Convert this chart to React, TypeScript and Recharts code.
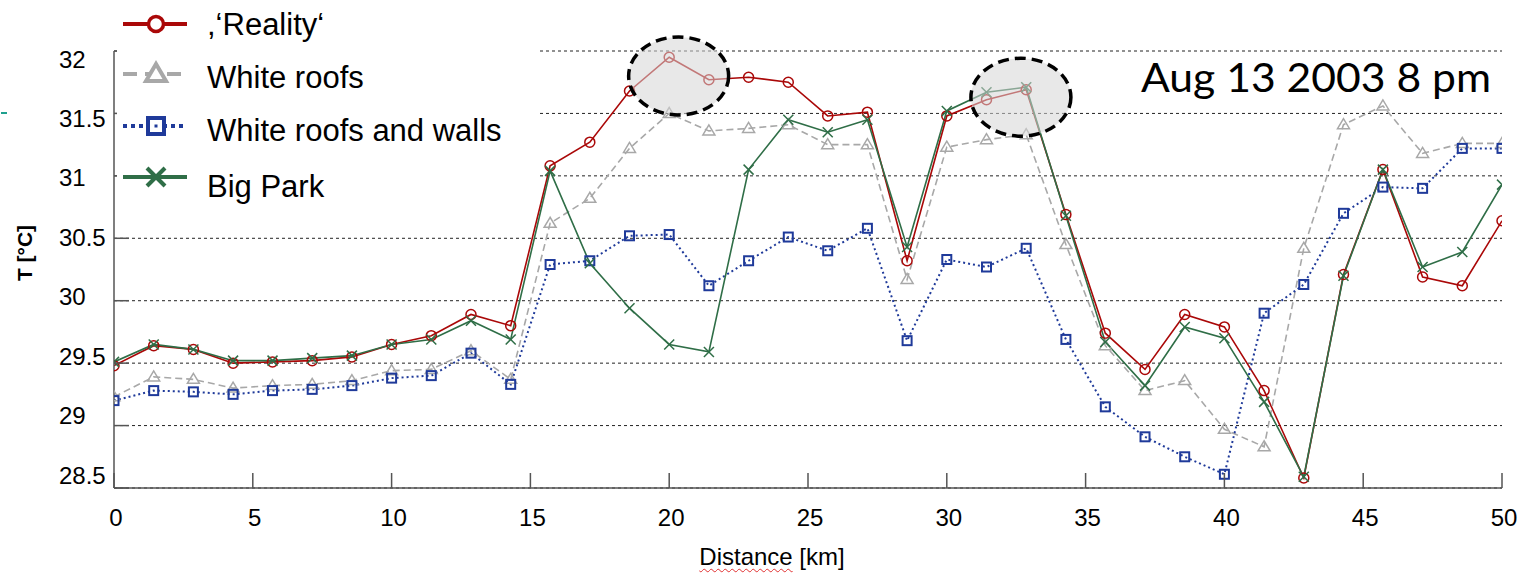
import React from 'react';
import { LineChart, Line, XAxis, YAxis, CartesianGrid, ReferenceDot, Legend } from 'recharts';

// ---- data ----
const distanceKm = [0, 1.43, 2.86, 4.29, 5.71, 7.14, 8.57, 10, 11.43, 12.86, 14.29, 15.71, 17.14, 18.57, 20, 21.43, 22.86, 24.29, 25.71, 27.14, 28.57, 30, 31.43, 32.86, 34.29, 35.71, 37.14, 38.57, 40, 41.43, 42.86, 44.29, 45.71, 47.14, 48.57, 50];
const reality = [29.48, 29.64, 29.61, 29.5, 29.51, 29.52, 29.55, 29.65, 29.72, 29.89, 29.8, 31.08, 31.27, 31.68, 31.95, 31.77, 31.79, 31.75, 31.48, 31.51, 30.32, 31.48, 31.61, 31.69, 30.69, 29.74, 29.45, 29.89, 29.79, 29.28, 28.58, 30.21, 31.05, 30.19, 30.12, 30.64];
const whiteRoofs = [29.23, 29.39, 29.37, 29.3, 29.32, 29.33, 29.36, 29.44, 29.45, 29.6, 29.37, 30.62, 30.82, 31.22, 31.5, 31.36, 31.38, 31.41, 31.25, 31.25, 30.17, 31.23, 31.29, 31.33, 30.45, 29.64, 29.28, 29.36, 28.97, 28.83, 30.42, 31.41, 31.56, 31.18, 31.26, 31.26];
const whiteRoofsWalls = [29.2, 29.28, 29.27, 29.25, 29.28, 29.29, 29.32, 29.38, 29.4, 29.58, 29.33, 30.29, 30.32, 30.52, 30.53, 30.12, 30.32, 30.51, 30.4, 30.58, 29.68, 30.33, 30.27, 30.42, 29.69, 29.15, 28.91, 28.75, 28.61, 29.9, 30.13, 30.7, 30.91, 30.9, 31.22, 31.22];
const bigPark = [29.51, 29.65, 29.61, 29.52, 29.52, 29.54, 29.56, 29.65, 29.69, 29.84, 29.69, 31.04, 30.3, 29.94, 29.65, 29.59, 31.05, 31.45, 31.35, 31.45, 30.43, 31.52, 31.67, 31.71, 30.68, 29.67, 29.32, 29.79, 29.7, 29.19, 28.59, 30.2, 31.05, 30.27, 30.39, 30.93];

const xTicks = [0, 5, 10, 15, 20, 25, 30, 35, 40, 45, 50];
const xTickLabels = ['0', '5', '10', '15', '20', '25', '30', '35', '40', '45', '50'];
const yTicks = [28.5, 29, 29.5, 30, 30.5, 31, 31.5, 32];
const yTickLabels = ['28.5', '29', '29.5', '30', '30.5', '31', '31.5', '32'];
const seriesNames = [',\u2018Reality\u2018', 'White roofs', 'White roofs and walls', 'Big Park'];
const highlightCenters = [
  { x: 20.34, y: 31.8 },
  { x: 32.67, y: 31.63 },
];
const titleText = 'Aug 13 2003 8 pm';
const xAxisTitleA = 'Distance';
const xAxisTitleB = ' [km]';
const yAxisTitle = 'T [\u00B0C]';

const data = distanceKm.map((d, i) => ({
  d,
  reality: reality[i],
  whiteRoofs: whiteRoofs[i],
  whiteRoofsWalls: whiteRoofsWalls[i],
  bigPark: bigPark[i],
}));

// ---- styles ----
const SANS = '"Liberation Sans", Arial, Helvetica, sans-serif';
const RED = '#aa0808';
const GRAY = '#a8a8a8';
const BLUE = '#1f3a9a';
const GREEN = '#2f6e47';
const AXIS = '#555';

const circleDot = (color: string, r: number, sw: number) => (p: any) => {
  if (p.cx == null || p.cy == null) return <g key={p.index} />;
  return <circle key={p.index} cx={p.cx} cy={p.cy} r={r} fill="none" stroke={color} strokeWidth={sw} />;
};
const triDot = (color: string, w: number, h: number, sw: number) => (p: any) => {
  if (p.cx == null || p.cy == null) return <g key={p.index} />;
  const { cx, cy } = p;
  const pts = `${cx},${cy - h * 0.6} ${cx - w / 2},${cy + h * 0.4} ${cx + w / 2},${cy + h * 0.4}`;
  return <polygon key={p.index} points={pts} fill="none" stroke={color} strokeWidth={sw} strokeLinejoin="miter" />;
};
const sqDot = (color: string, s: number, sw: number) => (p: any) => {
  if (p.cx == null || p.cy == null) return <g key={p.index} />;
  return <rect key={p.index} x={p.cx - s / 2} y={p.cy - s / 2} width={s} height={s} fill="none" stroke={color} strokeWidth={sw} />;
};
const xDot = (color: string, s: number, sw: number) => (p: any) => {
  if (p.cx == null || p.cy == null) return <g key={p.index} />;
  const { cx, cy } = p;
  const h = s / 2;
  return (
    <g key={p.index}>
      <line x1={cx - h} y1={cy - h} x2={cx + h} y2={cy + h} stroke={color} strokeWidth={sw} />
      <line x1={cx - h} y1={cy + h} x2={cx + h} y2={cy - h} stroke={color} strokeWidth={sw} />
    </g>
  );
};

const XTick = (props: any) => {
  const { x, y, payload } = props;
  const idx = xTicks.indexOf(payload.value);
  return (
    <g>
      <line x1={x} x2={x} y1={y} y2={y - 15} stroke={AXIS} strokeWidth={1.5} />
      <text x={x + 2} y={y + 38} textAnchor="middle" fontFamily={SANS} fontSize={24} fill="#000">
        {xTickLabels[idx]}
      </text>
    </g>
  );
};

const YTick = (props: any) => {
  const { x, y, payload } = props;
  const idx = yTicks.indexOf(payload.value);
  const shift = 8 - (32 - payload.value) * 6;
  return (
    <g>
      <line x1={x} x2={x + 15} y1={y} y2={y} stroke={AXIS} strokeWidth={1.5} />
      <text x={x - 55} y={y + shift} dy="0.36em" textAnchor="start" fontFamily={SANS} fontSize={24} fill="#000">
        {yTickLabels[idx]}
      </text>
    </g>
  );
};

const legendMarkerY = [24, 74, 126, 177];
const legendTextY = [35, 88, 141, 197];

const LegendBox = () => (
  <svg width={421} height={205} style={{ display: 'block' }}>
    {/* Reality */}
    <line x1={6} x2={70} y1={legendMarkerY[0]} y2={legendMarkerY[0]} stroke={RED} strokeWidth={4} />
    <circle cx={39} cy={legendMarkerY[0]} r={7.5} fill="#fff" stroke={RED} strokeWidth={3.5} />
    {/* White roofs */}
    <line x1={6} x2={70} y1={legendMarkerY[1]} y2={legendMarkerY[1]} stroke={GRAY} strokeWidth={4} strokeDasharray="14 8" />
    <polygon
      points={`39,${legendMarkerY[1] - 10} ${29},${legendMarkerY[1] + 7} ${49},${legendMarkerY[1] + 7}`}
      fill="#fff"
      stroke={GRAY}
      strokeWidth={4}
    />
    {/* White roofs and walls */}
    <line x1={6} x2={70} y1={legendMarkerY[2]} y2={legendMarkerY[2]} stroke={BLUE} strokeWidth={4} strokeDasharray="4 4" />
    <rect x={31} y={legendMarkerY[2] - 8} width={16} height={16} fill="#fff" stroke={BLUE} strokeWidth={4} />
    <rect x={37.5} y={legendMarkerY[2] - 1.5} width={3} height={3} fill={BLUE} />
    {/* Big Park */}
    <line x1={6} x2={70} y1={legendMarkerY[3]} y2={legendMarkerY[3]} stroke={GREEN} strokeWidth={4} />
    <line x1={30} y1={legendMarkerY[3] - 9} x2={48} y2={legendMarkerY[3] + 9} stroke={GREEN} strokeWidth={4} />
    <line x1={30} y1={legendMarkerY[3] + 9} x2={48} y2={legendMarkerY[3] - 9} stroke={GREEN} strokeWidth={4} />
    {seriesNames.map((n, i) => (
      <text key={n} x={90} y={legendTextY[i]} fontFamily={SANS} fontSize={31} fill="#000">
        {n}
      </text>
    ))}
  </svg>
);

const Highlight = (p: any) => {
  if (p.cx == null) return <g />;
  return (
    <ellipse
      cx={p.cx}
      cy={p.cy}
      rx={50}
      ry={39}
      fill="#d6d6d6"
      fillOpacity={0.55}
      stroke="#000"
      strokeWidth={3.5}
      strokeDasharray="11 6"
    />
  );
};

export default function App() {
  return (
    <div style={{ position: 'absolute', left: 0, top: 0, width: 1522, height: 574, background: '#fff' }}>
      <LineChart width={1522} height={574} data={data} margin={{ top: 51, right: 20, left: 0, bottom: 0 }}>
        <CartesianGrid vertical={false} stroke="#222" strokeDasharray="3 3" strokeWidth={1} />
        <XAxis
          type="number"
          dataKey="d"
          domain={[0, 50]}
          ticks={xTicks}
          interval={0}
          height={86}
          tickSize={0}
          tickMargin={0}
          tickLine={false}
          axisLine={{ stroke: AXIS, strokeWidth: 1.5 }}
          tick={<XTick />}
          allowDataOverflow
        />
        <YAxis
          type="number"
          domain={[28.5, 32]}
          ticks={yTicks}
          interval={0}
          width={114}
          tickSize={0}
          tickMargin={0}
          tickLine={false}
          axisLine={{ stroke: AXIS, strokeWidth: 1.5 }}
          tick={<YTick />}
          allowDataOverflow
        />
        <Line
          type="linear"
          dataKey="reality"
          name={seriesNames[0]}
          stroke={RED}
          strokeWidth={1.6}
          dot={circleDot(RED, 5, 1.5)}
          activeDot={false}
          isAnimationActive={false}
        />
        <Line
          type="linear"
          dataKey="whiteRoofs"
          name={seriesNames[1]}
          stroke={GRAY}
          strokeWidth={1.6}
          strokeDasharray="7 4"
          dot={triDot(GRAY, 12, 10, 1.5)}
          activeDot={false}
          isAnimationActive={false}
        />
        <Line
          type="linear"
          dataKey="whiteRoofsWalls"
          name={seriesNames[2]}
          stroke={BLUE}
          strokeWidth={2}
          strokeDasharray="2 3"
          dot={sqDot(BLUE, 9, 2)}
          activeDot={false}
          isAnimationActive={false}
        />
        <Line
          type="linear"
          dataKey="bigPark"
          name={seriesNames[3]}
          stroke={GREEN}
          strokeWidth={1.6}
          dot={xDot(GREEN, 10, 1.5)}
          activeDot={false}
          isAnimationActive={false}
        />
        {highlightCenters.map((c, i) => (
          <ReferenceDot key={i} x={c.x} y={c.y} shape={<Highlight />} ifOverflow="visible" zIndex={1500} />
        ))}
        <Legend
          layout="vertical"
          align="center"
          verticalAlign="middle"
          content={<LegendBox />}
          wrapperStyle={{ position: 'absolute', left: 117, top: 0, width: 421, height: 205, background: '#fff' }}
        />
      </LineChart>
      <svg width={1522} height={574} style={{ position: 'absolute', left: 0, top: 0, pointerEvents: 'none' }}>
        <text x={1141} y={92} fontFamily="Lato, 'Open Sans', sans-serif" fontSize={41} fill="#000" textLength={350} lengthAdjust="spacingAndGlyphs">
          {titleText}
        </text>
        <text
          transform="translate(24,253) rotate(-90)"
          textAnchor="middle"
          dy="0.36em"
          fontFamily={SANS}
          fontWeight="bold"
          fontSize={21}
          fill="#000"
        >
          {yAxisTitle}
        </text>
      </svg>
      <div
        style={{
          position: 'absolute',
          left: 622,
          top: 543,
          width: 300,
          textAlign: 'center',
          fontFamily: SANS,
          fontSize: 24,
          lineHeight: '28px',
          color: '#000',
          whiteSpace: 'nowrap',
        }}
      >
        <span style={{ textDecorationLine: 'underline', textDecorationStyle: 'wavy', textDecorationColor: '#e03030', textDecorationThickness: '1px', textUnderlineOffset: '3px' }}>
          {xAxisTitleA}
        </span>
        {xAxisTitleB}
      </div>
      <div style={{ position: 'absolute', left: 1, top: 112, width: 6, height: 2, background: '#1fa08e' }} />
    </div>
  );
}
